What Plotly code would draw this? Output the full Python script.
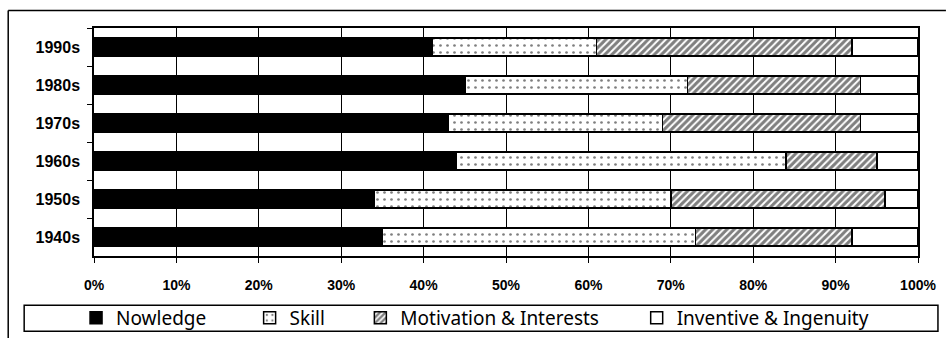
import plotly.graph_objects as go

decades = ["1990s", "1980s", "1970s", "1960s", "1950s", "1940s"]
knowledge = [41, 45, 43, 44, 34, 35]
skill = [20, 27, 26, 40, 36, 38]
motivation = [31, 21, 24, 11, 26, 19]
inventive = [8, 7, 7, 5, 4, 8]
x_ticks = [0, 10, 20, 30, 40, 50, 60, 70, 80, 90, 100]
x_tick_labels = [f"{v}%" for v in x_ticks]
series_names = ["Nowledge", "Skill", "Motivation & Interests", "Inventive & Ingenuity"]

W, H = 948, 349
L, R, T, B = 94, 920, 28, 264  # plot area in px


def px(x):
    return (x - L) / (R - L)


def py(y):
    return (B - y) / (B - T)


line = dict(color="black", width=1.5)
fig = go.Figure()
fig.add_trace(go.Bar(y=decades, x=knowledge, orientation="h", name=series_names[0],
                     marker=dict(color="black", line=line), legend="legend", showlegend=True))
fig.add_trace(go.Bar(y=decades, x=skill, orientation="h", name=series_names[1],
                     marker=dict(color="white", line=line,
                                 pattern=dict(shape=".", fgcolor="black", bgcolor="white",
                                              size=7, solidity=0.12, fillmode="overlay")),
                     legend="legend2", showlegend=True))
fig.add_trace(go.Bar(y=decades, x=motivation, orientation="h", name=series_names[2],
                     marker=dict(color="white", line=line,
                                 pattern=dict(shape="/", fgcolor="black", bgcolor="white",
                                              size=5, solidity=0.6, fillmode="overlay")),
                     legend="legend3", showlegend=True))
fig.add_trace(go.Bar(y=decades, x=inventive, orientation="h", name=series_names[3],
                     marker=dict(color="white", line=line), legend="legend4", showlegend=True))

legend_font = dict(family="Noto Sans", size=19, color="black")
text_starts = [113, 287, 398, 675]
legend_keys = ["legend", "legend2", "legend3", "legend4"]
legends = {}
for k, xs in zip(legend_keys, text_starts):
    legends[k] = dict(x=px(xs - 37), xanchor="left", y=py(328), yanchor="middle",
                      orientation="h", font=legend_font, bgcolor="rgba(0,0,0,0)",
                      borderwidth=0, itemclick=False, visible=True)

shapes = [
    # legend box
    dict(type="rect", xref="paper", yref="paper", x0=px(24), x1=px(940), y0=py(315), y1=py(342),
         line=dict(color="black", width=1.5), fillcolor="rgba(0,0,0,0)", layer="below"),
    # outer frame (top and left)
    dict(type="line", xref="paper", yref="paper", x0=px(8), x1=px(948), y0=py(10), y1=py(10),
         line=dict(color="black", width=1.5)),
    dict(type="line", xref="paper", yref="paper", x0=px(8), x1=px(8), y0=py(10), y1=py(349),
         line=dict(color="black", width=1.5)),
]

fig.update_layout(
    barmode="stack",
    bargap=0.52,
    showlegend=True,
    width=W, height=H,
    margin=dict(l=L, r=W - R, t=T, b=H - B, pad=0),
    paper_bgcolor="white", plot_bgcolor="white",
    shapes=shapes,
    **legends,
)
fig.update_xaxes(range=[0, 100], tickvals=x_ticks, ticktext=x_tick_labels,
                 showgrid=True, gridcolor="black", gridwidth=1,
                 showline=True, linecolor="black", linewidth=1.5, mirror=True,
                 ticks="outside", ticklen=5, tickcolor="black", ticklabelstandoff=10,
                 tickfont=dict(family="Liberation Sans", size=14, color="black", weight="bold"),
                 zeroline=False, fixedrange=True)
fig.update_yaxes(autorange="reversed", tickson="boundaries",
                 showline=True, linecolor="black", linewidth=1.5, mirror=True,
                 ticks="outside", ticklen=5, tickcolor="black", ticklabelstandoff=9,
                 showgrid=False,
                 tickfont=dict(family="Liberation Sans", size=16, color="black", weight="bold"),
                 fixedrange=True)

fig.write_html("out.html")
